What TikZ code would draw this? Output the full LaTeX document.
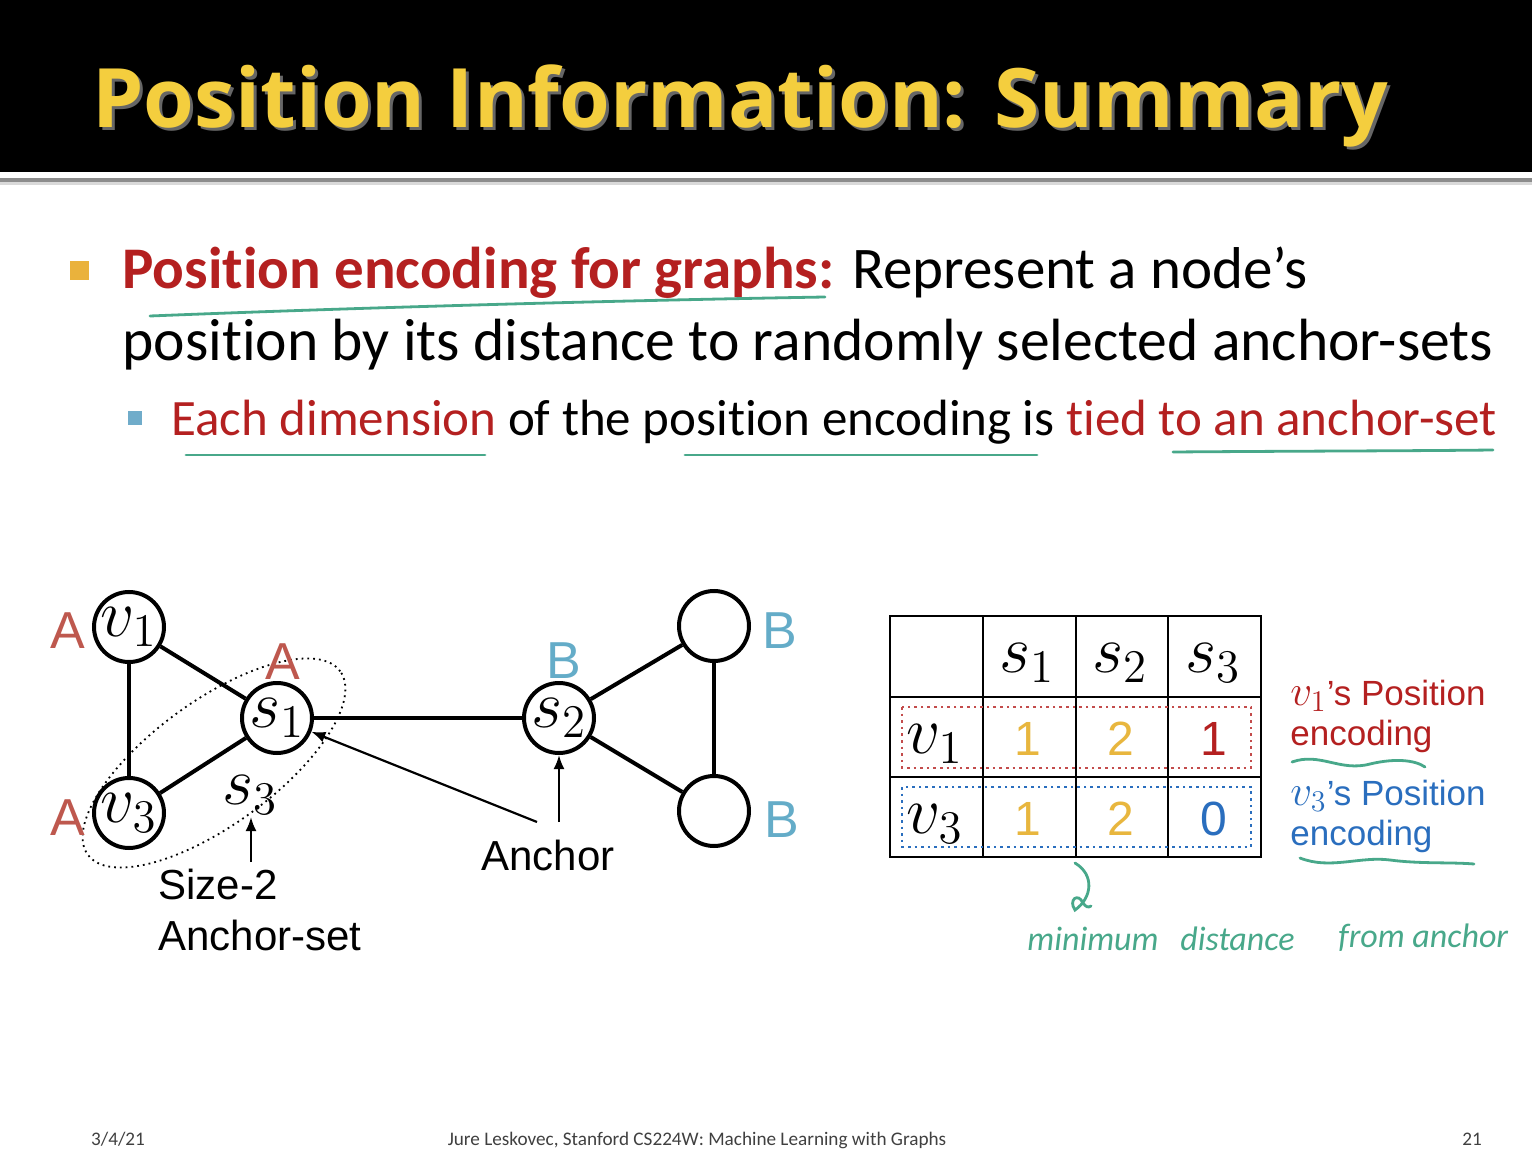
\documentclass[tikz,border=0pt]{standalone}
\usepackage{graphicx}
\usepackage{fontspec}
\setmainfont{Carlito}[Ligatures=NoCommon]
\newfontfamily\helv{Liberation Sans}
\newfontfamily\titlefont{Open Sans}
\usetikzlibrary{arrows.meta,decorations.pathmorphing}
\newcommand{\mysym}[1]{\scalebox{1.95}{$#1$}}
\definecolor{titleyel}{RGB}{244,206,62}
\definecolor{darkred}{RGB}{180,32,32}
\definecolor{Ared}{RGB}{190,88,78}
\definecolor{Bblue}{RGB}{100,172,200}
\definecolor{hgreen}{RGB}{72,168,138}
\definecolor{numyel}{RGB}{232,182,62}
\definecolor{encblue}{RGB}{42,110,190}
\definecolor{bulone}{RGB}{234,178,60}
\definecolor{bultwo}{RGB}{112,172,202}
\begin{document}
\begin{tikzpicture}[x=0.5pt,y=-0.5pt,
  gnode/.style={circle,draw,line width=2pt,minimum size=35pt,inner sep=0pt,font=\fontsize{17.28}{18}\selectfont},
  edge/.style={line width=2pt},
  ptr/.style={line width=1.1pt,-{Latex[length=7pt,width=5.5pt]}},
  alab/.style={anchor=base,inner sep=0pt,text=Ared,font=\helv\fontsize{26}{26}\selectfont},
  blab/.style={anchor=base,inner sep=0pt,text=Bblue,font=\helv\fontsize{26}{26}\selectfont},
  captxt/.style={anchor=base west,inner sep=0pt,font=\helv\fontsize{21}{21}\selectfont},
  num/.style={anchor=base,inner sep=0pt,font=\helv\fontsize{24}{24}\selectfont},
  hdr/.style={anchor=center,inner sep=0pt,font=\fontsize{17.28}{18}\selectfont},
  enc/.style={anchor=base west,inner sep=0pt,font=\helv\fontsize{17.5}{17.5}\selectfont},
  hand/.style={anchor=base west,inner sep=0pt,text=hgreen,font=\itshape\fontsize{17}{17}\selectfont},
  txt/.style={anchor=base west,inner sep=0pt},
  uline/.style={hgreen,line width=1.4pt,line cap=round},
  foot/.style={anchor=base,inner sep=0pt,text=black!75,font=\fontsize{9.6}{10}\selectfont}]
\useasboundingbox (0,0) rectangle (1532,1150);
\fill[white] (0,0) rectangle (1532,1150);
% title bar
\fill[black] (0,0) rectangle (1532,172);
\fill[black!45] (0,178) rectangle (1532,182);
\fill[black!15] (0,182) rectangle (1532,185);
\node[txt,text=black!60,font=\titlefont\bfseries\fontsize{41}{41}\selectfont] at (95,131) {Position Information: Summary};
\node[txt,text=titleyel,font=\titlefont\bfseries\fontsize{41}{41}\selectfont] (title) at (92,128) {Position Information: Summary};
% bullets
\fill[bulone] (70,261) rectangle (89,280);
\node[txt,font=\fontsize{29.5}{30}\selectfont] (b1) at (122,289) {\textcolor{darkred}{\bfseries Position encoding for graphs:} Represent a node’s};
\node[txt,font=\fontsize{29.8}{30}\selectfont] (b1b) at (122,360) {position by its distance to randomly selected anchor-sets};
\fill[bultwo] (128,411) rectangle (142,425);
\node[txt,font=\fontsize{25.5}{26}\selectfont] (b2) at (171,436) {\textcolor{darkred}{Each dimension} of the position encoding is \textcolor{darkred}{tied to an anchor-set}};
% green underlines
\draw[uline] (150,316) .. controls (400,306) and (650,300) .. (825,297);
\draw[uline] (186,455) -- (485,455);
\draw[uline] (685,455) -- (1037,455);
\draw[uline] (1173,452) .. controls (1300,451) and (1400,451) .. (1493,450);
% graph
\node[gnode] (v1) at (129,627) {\mysym{v_1}};
\node[gnode] (s1) at (277,718) {\mysym{s_1}};
\node[gnode] (v3) at (129,813) {\mysym{v_3}};
\node[gnode] (s2) at (559,718) {\mysym{s_2}};
\node[gnode] (t) at (714,626) {};
\node[gnode] (b) at (714,811) {};
\draw[edge] (v1) -- (s1);
\draw[edge] (v1) -- (v3);
\draw[edge] (v3) -- (s1);
\draw[edge] (s1) -- (s2);
\draw[edge] (s2) -- (t);
\draw[edge] (s2) -- (b);
\draw[edge] (t) -- (b);
\draw[line width=0.9pt,dotted,rotate around={36:(214,763)}] (214,763) ellipse [x radius=78pt,y radius=31pt];
\node[alab] (a1) at (68,648) {A};
\node[alab] (a2) at (283,679) {A};
\node[alab] (a3) at (68,835) {A};
\node[blab] (bb1) at (564,678) {B};
\node[blab] (bb2) at (780,648) {B};
\node[blab] (bb3) at (782,837) {B};
\node[hdr] (s3) at (250,795) {\mysym{s_3}};
\coordinate (s3tail) at (251,862);
\draw[ptr] (s3tail) -- (251,817);
\node[captxt] (size2) at (158,899) {Size-2};
\node[captxt] (aset) at (158,950) {Anchor-set};
\node[anchor=base,inner sep=0pt,font=\helv\fontsize{21}{21}\selectfont] (anchor) at (548,870) {Anchor};
\coordinate (atail) at (537,822);
\coordinate (btail) at (559,822);
\draw[ptr] (atail) -- (s1);
\draw[ptr] (btail) -- (s2);
% table
\draw[line width=1pt] (890,616) rectangle (1261,857);
\draw[line width=1pt] (983,616) -- (983,857) (1076,616) -- (1076,857) (1168,616) -- (1168,857)
  (890,697) -- (1261,697) (890,777) -- (1261,777);
\node[hdr] (h1) at (1027,663) {\mysym{s_1}};
\node[hdr] (h2) at (1120,663) {\mysym{s_2}};
\node[hdr] (h3) at (1213,663) {\mysym{s_3}};
\node[hdr] (r1) at (935,744) {\mysym{v_1}};
\node[hdr] (r3) at (935,824) {\mysym{v_3}};
\draw[darkred!80,line width=1.3pt,dotted] (902,707) rectangle (1251,768);
\draw[encblue,line width=1.3pt,dotted] (902,787) rectangle (1251,847);
\node[num,text=numyel] (n11) at (1028,755) {1};
\node[num,text=numyel] (n12) at (1121,755) {2};
\node[num,text=darkred] (n13) at (1214,755) {1};
\node[num,text=numyel] (n31) at (1028,835) {1};
\node[num,text=numyel] (n32) at (1121,835) {2};
\node[num,text=encblue] (n33) at (1214,835) {0};
\node[enc,text=darkred] (e1) at (1290,705) {\scalebox{1.25}{$v_1$}’s Position};
\node[enc,text=darkred] (e1b) at (1290,745) {encoding};
\node[enc,text=encblue] (e3) at (1290,805) {\scalebox{1.25}{$v_3$}’s Position};
\node[enc,text=encblue] (e3b) at (1290,845) {encoding};
\draw[uline] (1292,762) .. controls (1320,752) and (1340,772) .. (1370,764) .. controls (1395,758) and (1415,760) .. (1425,767);
\draw[uline] (1300,858) .. controls (1330,870) and (1360,856) .. (1390,860) .. controls (1420,864) and (1450,862) .. (1474,864);
% handwriting
\draw[uline] (1075,863) .. controls (1095,875) and (1092,898) .. (1075,910) .. controls (1068,900) and (1078,892) .. (1083,903) .. controls (1086,907) and (1088,908) .. (1091,906);
\node[hand] (w1) at (1027,950) {minimum};
\node[hand] (w2) at (1180,950) {distance};
\node[hand] (w3) at (1338,947) {from anchor};
% footer
\node[foot] (f1) at (118,1145) {3/4/21};
\node[foot] (f2) at (697,1145) {Jure Leskovec, Stanford CS224W: Machine Learning with Graphs};
\node[foot] (f3) at (1472,1145) {21};
\end{tikzpicture}
\end{document}
